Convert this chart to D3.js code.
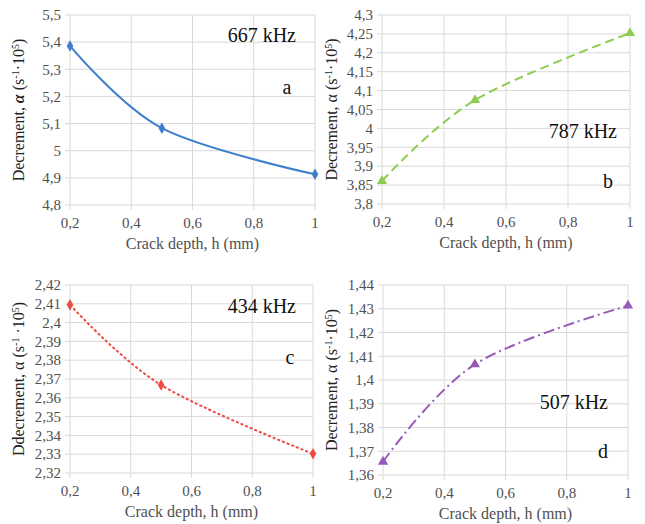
<!DOCTYPE html>
<html>
<head>
<meta charset="utf-8">
<script src="https://cdn.jsdelivr.net/npm/d3@7"></script>
<style>
  body { margin: 0; background: #fff; }
  svg { display: block; }
  svg text { font-family: "Liberation Serif", "DejaVu Serif", "Times New Roman", serif; }
</style>
</head>
<body>
<div id="chart"></div>
<script>
// data
var depth = [0.2, 0.5, 1];
var xTicks = [0.2, 0.4, 0.6, 0.8, 1];

var alpha667 = [5.386, 5.083, 4.913];
var alpha787 = [3.861, 4.075, 4.252];
var alpha434 = [2.4095, 2.3668, 2.3302];
var alpha507 = [1.3656, 1.4066, 1.4313];

var yTicks667 = [4.8, 4.9, 5, 5.1, 5.2, 5.3, 5.4, 5.5];
var yTicks787 = [3.8, 3.85, 3.9, 3.95, 4, 4.05, 4.1, 4.15, 4.2, 4.25, 4.3];
var yTicks434 = [2.32, 2.33, 2.34, 2.35, 2.36, 2.37, 2.38, 2.39, 2.4, 2.41, 2.42];
var yTicks507 = [1.36, 1.37, 1.38, 1.39, 1.4, 1.41, 1.42, 1.43, 1.44];

var freqLabels = ["667 kHz", "787 kHz", "434 kHz", "507 kHz"];
var panelLetters = ["a", "b", "c", "d"];
var yTitleWords = ["Decrement, ", "Decrement, ", "Ddecrement, ", "Decrement, "];

var svg = d3.select("#chart").append("svg")
    .attr("width", 645)
    .attr("height", 524);

var locale = d3.formatLocale({decimal: ",", thousands: " ", grouping: [3], currency: ["", ""]});
var fmt = locale.format("~g");

// one entry per panel (layout + styling)
var panels = [
    {values: alpha667, ticks: yTicks667, x0: 70, x1: 315, y0: 15, y1: 205,
     color: "#3f7ecb", dash: null, marker: "diamond", titleX: 24,
     freq: {x: 296, y: 42}, letter: {x: 287, y: 94}, italicAlpha: true},
    {values: alpha787, ticks: yTicks787, x0: 382, x1: 630, y0: 15, y1: 204,
     color: "#8fcc52", dash: "9,5", marker: "triangle", titleX: 337,
     freq: {x: 617, y: 138}, letter: {x: 608, y: 188}, italicAlpha: false},
    {values: alpha434, ticks: yTicks434, x0: 70, x1: 313, y0: 285, y1: 473,
     color: "#ee4b43", dash: "3,2", marker: "diamond", titleX: 24,
     freq: {x: 296, y: 313}, letter: {x: 290, y: 364}, italicAlpha: false},
    {values: alpha507, ticks: yTicks507, x0: 383, x1: 628, y0: 285, y1: 475,
     color: "#9659b8", dash: "11,4,2,4", marker: "triangle", titleX: 337,
     freq: {x: 608, y: 409}, letter: {x: 603, y: 458}, italicAlpha: false}
];

panels.forEach(function(p, i) {
    var g = svg.append("g");

    var x = d3.scaleLinear()
        .domain([0.2, 1])
        .range([p.x0, p.x1]);

    var y = d3.scaleLinear()
        .domain([p.ticks[0], p.ticks[p.ticks.length - 1]])
        .range([p.y1, p.y0]);

    // gridlines
    g.selectAll("line.hgrid")
        .data(p.ticks)
        .enter().append("line")
        .attr("class", "hgrid")
        .attr("x1", p.x0 - 5)
        .attr("x2", p.x1)
        .attr("y1", function(d) { return y(d); })
        .attr("y2", function(d) { return y(d); })
        .style("stroke", "#d9d9d9")
        .style("stroke-width", 1);

    g.selectAll("line.vgrid")
        .data(xTicks)
        .enter().append("line")
        .attr("class", "vgrid")
        .attr("x1", function(d) { return x(d); })
        .attr("x2", function(d) { return x(d); })
        .attr("y1", p.y0)
        .attr("y2", p.y1 + 5)
        .style("stroke", "#d9d9d9")
        .style("stroke-width", 1);

    // tick labels
    g.selectAll("text.ylab")
        .data(p.ticks)
        .enter().append("text")
        .attr("class", "ylab")
        .attr("x", p.x0 - 9)
        .attr("y", function(d) { return y(d); })
        .attr("dy", "0.35em")
        .style("text-anchor", "end")
        .style("font-size", "15px")
        .style("fill", "#505050")
        .text(function(d) { return fmt(d); });

    g.selectAll("text.xlab")
        .data(xTicks)
        .enter().append("text")
        .attr("class", "xlab")
        .attr("x", function(d) { return x(d); })
        .attr("y", p.y1 + 23)
        .style("text-anchor", "middle")
        .style("font-size", "15px")
        .style("fill", "#505050")
        .text(function(d) { return fmt(d); });

    // axis titles
    g.append("text")
        .attr("x", (p.x0 + p.x1) / 2)
        .attr("y", p.y1 + 44)
        .style("text-anchor", "middle")
        .style("font-size", "16px")
        .style("fill", "#505050")
        .text("Crack depth, h (mm)");

    var yt = g.append("text")
        .attr("transform", "translate(" + p.titleX + "," + ((p.y0 + p.y1) / 2) + ") rotate(-90)")
        .style("text-anchor", "middle")
        .style("font-size", "16px")
        .style("fill", "#222");
    yt.append("tspan").text(yTitleWords[i]);
    yt.append("tspan")
        .style("font-style", p.italicAlpha ? "italic" : "normal")
        .style("font-weight", p.italicAlpha ? "bold" : "normal")
        .text("α");
    yt.append("tspan").text(i == 2 ? "  (s" : " (s");
    yt.append("tspan").attr("dy", -5).style("font-size", "10px").text("-1");
    yt.append("tspan").attr("dy", 5).text(i == 2 ? " ·10" : "·10");
    yt.append("tspan").attr("dy", -5).style("font-size", "10px").text("5");
    yt.append("tspan").attr("dy", 5).text(")");

    // the series
    var pts = depth.map(function(d, k) { return {h: d, a: p.values[k]}; });

    var line = d3.line()
        .x(function(d) { return x(d.h); })
        .y(function(d) { return y(d.a); })
        .curve(d3.curveCardinal.tension(0));

    g.append("path")
        .datum(pts)
        .attr("d", line)
        .style("fill", "none")
        .style("stroke", p.color)
        .style("stroke-width", 2)
        .style("stroke-dasharray", p.dash);

    var sym = d3.symbol()
        .type(p.marker == "diamond" ? d3.symbolDiamond : d3.symbolTriangle)
        .size(p.marker == "diamond" ? 38 : 45);

    g.selectAll("path.mark")
        .data(pts)
        .enter().append("path")
        .attr("class", "mark")
        .attr("d", sym)
        .attr("transform", function(d) { return "translate(" + x(d.h) + "," + y(d.a) + ")"; })
        .style("fill", p.color);

    // annotations
    g.append("text")
        .attr("x", p.freq.x)
        .attr("y", p.freq.y)
        .style("text-anchor", "end")
        .style("font-size", "20px")
        .style("fill", "#111")
        .text(freqLabels[i]);

    g.append("text")
        .attr("x", p.letter.x)
        .attr("y", p.letter.y)
        .style("text-anchor", "middle")
        .style("font-size", "20px")
        .style("fill", "#111")
        .text(panelLetters[i]);
});
</script>
</body>
</html>
